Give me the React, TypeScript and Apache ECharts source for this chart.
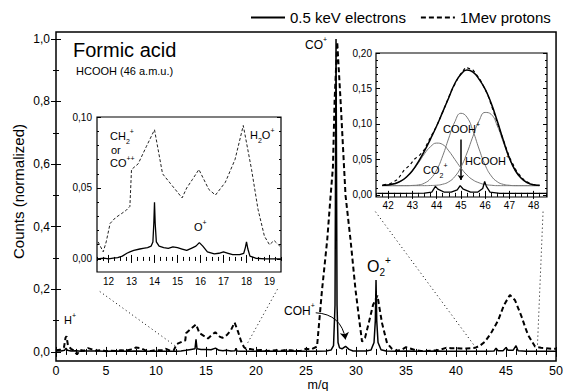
import React, { useEffect, useRef } from 'react';
import * as echarts from 'echarts';

const FONT = '"Liberation Sans", Arial, Helvetica, sans-serif';

// ---------- tick labels ----------
const mainXLabels = [0, 5, 10, 15, 20, 25, 30, 35, 40, 45, 50];
const mainYLabels = [0, 0.2, 0.4, 0.6, 0.8, 1.0];
const inset1XLabels = [12, 13, 14, 15, 16, 17, 18, 19];
const inset1YLabels = [0, 0.05, 0.1];
const inset2XLabels = [42, 43, 44, 45, 46, 47, 48];
const inset2YLabels = [0, 0.05, 0.1, 0.15, 0.2];

const legendNames = ['0.5 keV electrons', '1Mev protons'];

// ---------- main spectrum (m/q, normalized counts) ----------
const mainElectrons: number[][] = [
  [0, 0.003], [0.5, 0.003], [0.85, 0.005], [1.0, 0.012], [1.15, 0.005], [1.5, 0.003], [2, 0.004], [2.5, 0.002],
  [3, 0.003], [4, 0.003], [5, 0.002], [6, 0.003], [7, 0.002], [8, 0.003], [9, 0.002], [10, 0.002], [11, 0.002],
  [12, 0.002], [12.5, 0.003], [13, 0.005], [13.5, 0.008], [13.9, 0.01], [14, 0.04], [14.1, 0.01], [14.5, 0.008],
  [15, 0.008], [15.5, 0.007], [15.95, 0.012], [16.3, 0.005], [16.7, 0.004], [17, 0.005], [17.5, 0.003], [17.9, 0.004],
  [18, 0.012], [18.1, 0.003], [18.5, 0.002], [19, 0.002], [20, 0.002], [21, 0.003], [22, 0.002], [23, 0.002],
  [24, 0.003], [25, 0.002], [26, 0.002], [27, 0.003], [27.5, 0.006], [27.75, 0.02], [27.9, 0.15], [28, 1.0],
  [28.1, 0.15], [28.2, 0.03], [28.35, 0.013], [28.6, 0.01], [28.95, 0.018], [29.3, 0.008], [29.7, 0.003],
  [30.5, 0.003], [31, 0.003], [31.5, 0.006], [31.8, 0.03], [31.93, 0.1], [32, 0.23], [32.07, 0.1], [32.2, 0.03],
  [32.5, 0.007], [33, 0.003], [34, 0.002], [35, 0.003], [36, 0.002], [37, 0.002], [38, 0.003], [39, 0.002],
  [40, 0.002], [41, 0.002], [42, 0.002], [43, 0.002], [43.8, 0.003], [44, 0.012], [44.2, 0.004], [44.7, 0.004],
  [45, 0.014], [45.2, 0.005], [45.7, 0.005], [46, 0.02], [46.2, 0.004], [47, 0.002], [48, 0.002], [49, 0.002], [50, 0.002],
];

const mainProtons: number[][] = [
  [0, 0.005], [0.4, 0.007], [0.8, 0.015], [0.95, 0.045], [1.05, 0.05], [1.2, 0.02], [1.5, 0.01], [1.8, 0.004],
  [2.1, -0.008], [2.4, 0.006], [2.8, 0.004], [3.2, 0.012], [3.6, 0.008], [4, 0.004], [4.5, 0.006], [5, 0.002],
  [5.5, 0.004], [6, 0.003], [6.5, 0.005], [7, 0.004], [7.5, 0.008], [8, 0.014], [8.5, 0.012], [9, 0.004],
  [9.5, 0.003], [10, 0.006], [10.5, 0.005], [11, 0.01], [11.4, 0.004], [11.77, 0.005], [12.07, 0.025],
  [12.57, 0.032], [12.93, 0.037], [13.0, 0.06], [13.5, 0.074], [14.0, 0.088], [14.35, 0.06], [14.7, 0.053],
  [15.2, 0.043], [15.65, 0.056], [15.93, 0.063], [16.36, 0.049], [16.65, 0.045], [17.08, 0.054], [17.5, 0.07],
  [17.86, 0.094], [18.22, 0.063], [18.5, 0.035], [18.78, 0.016], [19.0, 0.01], [19.5, 0.009], [20, 0.005],
  [20.5, 0.006], [21, 0.003], [21.5, 0.004], [22, 0.005], [22.5, 0.004], [23, 0.006], [23.5, 0.005], [24, 0.003],
  [24.5, 0.004], [25, 0.01], [25.5, 0.008], [26.1, 0.017], [26.6, 0.198], [27.12, 0.358], [27.46, 0.5],
  [27.69, 0.59], [27.86, 0.805], [28.12, 0.99], [28.45, 0.805], [28.95, 0.5], [29.45, 0.358], [29.95, 0.198],
  [30.45, 0.07], [30.6, 0.033], [30.9, 0.045], [31.27, 0.092], [31.7, 0.15], [32.14, 0.18], [32.6, 0.092],
  [33.1, 0.028], [33.6, 0.01], [34, 0.004], [34.5, 0.006], [35, 0.015], [35.5, 0.01], [36, 0.005], [36.5, 0.003],
  [37, 0.003], [37.5, 0.004], [38, 0.005], [38.5, 0.008], [39, 0.013], [39.5, 0.012], [40, 0.012], [40.5, 0.011],
  [41, 0.011], [41.5, 0.012], [41.9, 0.013], [42.4, 0.02], [42.9, 0.033], [43.5, 0.06], [44.2, 0.1], [44.8, 0.15],
  [45.39, 0.182], [45.9, 0.165], [46.55, 0.113], [46.9, 0.08], [47.2, 0.054], [47.9, 0.017], [48.5, 0.013],
  [49, 0.012], [49.5, 0.01], [50, 0.01],
];

// ---------- inset 1 (m/q 11.5 - 19.5) ----------
const inset1Protons: number[][] = [
  [11.55, 0.012], [11.77, 0.005], [11.9, 0.012], [12.07, 0.025], [12.3, 0.029], [12.57, 0.032], [12.75, 0.034],
  [12.93, 0.037], [13.0, 0.063], [13.29, 0.067], [13.64, 0.079], [14.0, 0.091], [14.35, 0.06], [14.7, 0.053],
  [15.0, 0.047], [15.2, 0.043], [15.4, 0.05], [15.65, 0.056], [15.93, 0.063], [16.36, 0.049], [16.65, 0.045],
  [17.08, 0.054], [17.5, 0.07], [17.86, 0.094], [18.22, 0.063], [18.5, 0.035], [18.78, 0.016], [19.0, 0.01],
  [19.2, 0.013], [19.45, 0.009],
];
const inset1Electrons: number[][] = [
  [11.5, 0.0], [11.8, 0.0005], [12.0, 0.0], [12.2, 0.0005], [12.4, 0.001], [12.6, 0.002], [12.8, 0.004],
  [12.93, 0.005], [13.1, 0.006], [13.36, 0.007], [13.5, 0.0075], [13.7, 0.008], [13.85, 0.009], [13.93, 0.012],
  [13.97, 0.025], [14.0, 0.04], [14.03, 0.025], [14.08, 0.012], [14.2, 0.009], [14.4, 0.008], [14.6, 0.0075],
  [14.8, 0.0085], [15.0, 0.008], [15.2, 0.007], [15.4, 0.006], [15.6, 0.0075], [15.8, 0.009], [15.95, 0.0115],
  [16.1, 0.009], [16.3, 0.005], [16.6, 0.0035], [16.8, 0.004], [17.0, 0.005], [17.2, 0.004], [17.4, 0.003],
  [17.7, 0.003], [17.88, 0.004], [17.95, 0.008], [18.0, 0.012], [18.06, 0.007], [18.15, 0.002], [18.4, 0.0005],
  [18.8, 0.0], [19.2, 0.0], [19.5, 0.0],
];

// ---------- inset 2 (m/q 41.5 - 48.5), fitted components ----------
const inset2Mass = [41.75, 42, 42.25, 42.5, 42.75, 43, 43.25, 43.5, 43.75, 44, 44.25, 44.5, 44.75, 45, 45.25, 45.5,
  45.75, 46, 46.25, 46.5, 46.75, 47, 47.25, 47.5, 47.75, 48, 48.25];
const fitCO2 = [0.013, 0.014, 0.016, 0.019, 0.025, 0.034, 0.045, 0.058, 0.068, 0.073, 0.071, 0.062, 0.05, 0.038,
  0.028, 0.021, 0.017, 0.0145, 0.0136, 0.013, 0.013, 0.013, 0.013, 0.013, 0.013, 0.013, 0.013];
const fitCOOH = [0.013, 0.013, 0.013, 0.013, 0.013, 0.0133, 0.014, 0.0166, 0.0228, 0.035, 0.055, 0.08, 0.103, 0.115,
  0.1095, 0.09, 0.0646, 0.042, 0.0268, 0.0185, 0.0148, 0.0135, 0.013, 0.013, 0.013, 0.013, 0.013];
const fitHCOOH = [0.013, 0.013, 0.013, 0.013, 0.013, 0.013, 0.013, 0.013, 0.0132, 0.0136, 0.015, 0.0184, 0.0258,
  0.039, 0.059, 0.0828, 0.1044, 0.1162, 0.1135, 0.0974, 0.0741, 0.0512, 0.0336, 0.0226, 0.0168, 0.0143, 0.0134];
const fitTotal = [0.0134, 0.014, 0.0156, 0.0189, 0.025, 0.034, 0.047, 0.062, 0.079, 0.097, 0.117, 0.137, 0.157,
  0.17, 0.176, 0.173, 0.163, 0.149, 0.129, 0.104, 0.077, 0.052, 0.034, 0.023, 0.017, 0.0143, 0.0134];
const inset2Protons: number[][] = [
  [41.8, 0.014], [42.1, 0.016], [42.4, 0.022], [42.66, 0.035], [42.9, 0.042], [43.07, 0.05], [43.3, 0.056],
  [43.48, 0.063], [43.7, 0.078], [44.0, 0.097], [44.3, 0.121], [44.6, 0.146], [44.9, 0.166], [45.2, 0.18],
  [45.5, 0.176], [45.8, 0.162], [46.1, 0.142], [46.4, 0.112], [46.7, 0.082], [47.0, 0.053], [47.3, 0.033],
  [47.6, 0.021], [47.9, 0.015], [48.2, 0.013],
];
const inset2Electrons: number[][] = [
  [41.55, 0.002], [42.5, 0.002], [43.5, 0.0025], [43.8, 0.004], [43.95, 0.012], [44.05, 0.008], [44.3, 0.004],
  [44.6, 0.004], [44.85, 0.007], [44.97, 0.013], [45.1, 0.008], [45.4, 0.004], [45.7, 0.004], [45.9, 0.009],
  [45.98, 0.019], [46.05, 0.012], [46.2, 0.004], [46.6, 0.002], [47.5, 0.002], [48.55, 0.002],
];

// ---------- annotation guides (in main-plot data units) ----------
const zoomGuides: number[][][] = [
  [[4.38, 0.193], [12.02, 0.017]],
  [[22.14, 0.2], [19.15, 0.028]],
  [[31.94, 0.448], [41.9, 0.017]],
  [[48.7, 0.448], [48.14, 0.019]],
];
const cohArrow = [[25.97, 0.125], [28.95, 0.04]];
const cooHMarker = [[45, 0.078], [45, 0.021]];

function steps(a: number, b: number, s: number) {
  const out: number[] = [];
  for (let v = a; v <= b + 1e-9; v += s) out.push(+v.toFixed(4));
  return out;
}
const comma = (d: number) => (v: number) => v.toFixed(d).replace('.', ',');

function axisSet(dim: 'x' | 'y', grid: number, min: number, max: number, labels: number[], majors: number[],
  minors: number[], fmt: (v: number) => string, fs: number, margin: number, majLen: number, minLen: number) {
  const [p1, p2] = dim === 'x' ? ['bottom', 'top'] : ['left', 'right'];
  const base = (pos: string, ticks: number[], len: number, withLabels: boolean) => ({
    type: 'value', gridIndex: grid, position: pos, min, max,
    axisLine: { show: false }, splitLine: { show: false },
    axisTick: { show: true, inside: true, length: len, customValues: ticks, lineStyle: { color: '#000', width: 1 } },
    axisLabel: withLabels
      ? { show: true, customValues: labels, formatter: fmt, fontSize: fs, color: '#000', margin, fontFamily: FONT }
      : { show: false },
  });
  return [base(p1, majors, majLen, true), base(p1, minors, minLen, false), base(p2, majors, majLen, false), base(p2, minors, minLen, false)];
}

function richLabel(x: number, y: number, parts: [string, string][], size: number) {
  const sm = Math.round(size * 0.62);
  return {
    type: 'text', x, y, z: 50,
    style: {
      text: parts.map(([t, k]) => `{${k}|${t}}`).join(''),
      verticalAlign: 'middle', align: 'left',
      rich: {
        b: { fontSize: size, lineHeight: size + 6, fontFamily: FONT, fill: '#000' },
        sup: { fontSize: sm, lineHeight: sm, verticalAlign: 'top', fontFamily: FONT, fill: '#000' },
        sub: { fontSize: sm, lineHeight: sm, verticalAlign: 'bottom', fontFamily: FONT, fill: '#000' },
      },
    },
  };
}

export default function App() {
  const ref = useRef<HTMLDivElement>(null);
  useEffect(() => {
    if (!ref.current) return;
    const chart = echarts.init(ref.current, undefined, { renderer: 'svg' });
    const xAxes = [
      ...axisSet('x', 0, 0, 50, mainXLabels, mainXLabels, steps(0, 50, 1), (v) => String(v), 12.5, 3, 5, 3),
      ...axisSet('x', 1, 11.5, 19.5, inset1XLabels, inset1XLabels, steps(11.5, 19.5, 0.25), (v) => String(v), 10, 4, 4, 2),
      ...axisSet('x', 2, 41.5, 48.55, inset2XLabels, inset2XLabels, steps(41.5, 48.5, 0.25), (v) => String(v), 10, 3, 4, 2),
    ];
    const yAxes = [
      ...axisSet('y', 0, -0.029, 1.022, mainYLabels, mainYLabels, steps(0, 1, 0.1), comma(1), 12, 6, 5, 3),
      ...axisSet('y', 1, -0.0092, 0.1, inset1YLabels, inset1YLabels, steps(0, 0.1, 0.01), comma(2), 10, 5, 4, 2),
      ...axisSet('y', 2, -0.003, 0.2, inset2YLabels, inset2YLabels, steps(0, 0.2, 0.01), comma(2), 10, 4, 4, 2),
    ];
    const black = '#000';
    const line = (name: string, data: any, xi: number, yi: number, ls: any, extra: any = {}) => ({
      type: 'line', name, data, xAxisIndex: xi, yAxisIndex: yi, symbol: 'none', showSymbol: false,
      lineStyle: ls, silent: true, ...extra,
    });
    const series: any[] = [
      line(legendNames[1], mainProtons, 0, 0, { color: black, width: 2, type: [5, 3] }, { itemStyle: { color: black } }),
      line(legendNames[0], mainElectrons, 0, 0, { color: black, width: 1.5 }, { itemStyle: { color: black } }),
      ...zoomGuides.map((g, i) => line('guide' + i, g, 0, 0, { color: black, width: 1, type: [1, 3] })),
      {
        type: 'lines', coordinateSystem: 'cartesian2d', xAxisIndex: 0, yAxisIndex: 0, silent: true,
        data: [{ coords: cohArrow }], symbol: ['none', 'arrow'], symbolSize: 7,
        lineStyle: { color: black, width: 1, curveness: 0.4, opacity: 1 },
      },
      line('i1p', inset1Protons, 4, 4, { color: '#222', width: 1, type: [3, 2] }),
      line('i1e', inset1Electrons, 4, 4, { color: black, width: 1.3 }),
      line('co2', inset2Mass.map((m, i) => [m, fitCO2[i]]), 8, 8, { color: '#777', width: 1 }, { smooth: true }),
      line('cooh', inset2Mass.map((m, i) => [m, fitCOOH[i]]), 8, 8, { color: '#777', width: 1 }, { smooth: true }),
      line('hcooh', inset2Mass.map((m, i) => [m, fitHCOOH[i]]), 8, 8, { color: '#777', width: 1 }, { smooth: true }),
      line('total', inset2Mass.map((m, i) => [m, fitTotal[i]]), 8, 8, { color: black, width: 1.5 }, { smooth: true }),
      line('i2p', inset2Protons, 8, 8, { color: black, width: 1.2, type: [3, 3] }),
      line('i2e', inset2Electrons, 8, 8, { color: black, width: 1.3 }),
      {
        type: 'lines', coordinateSystem: 'cartesian2d', xAxisIndex: 8, yAxisIndex: 8, silent: true,
        data: [{ coords: cooHMarker }], symbol: ['none', 'arrow'], symbolSize: 5,
        lineStyle: { color: black, width: 1.5, curveness: 0, opacity: 1 },
      },
    ];
    const option: any = {
      animation: false,
      textStyle: { fontFamily: FONT },
      grid: [
        { left: 56, top: 32, width: 503, height: 329, show: true, borderColor: black, borderWidth: 1.5, backgroundColor: 'transparent' },
        { left: 97, top: 117, width: 184, height: 155, show: true, borderColor: black, borderWidth: 1.2, backgroundColor: '#fff' },
        { left: 376, top: 53, width: 171, height: 144, show: true, borderColor: black, borderWidth: 1.2, backgroundColor: '#fff' },
      ],
      xAxis: xAxes,
      yAxis: yAxes,
      legend: {
        data: legendNames.slice(), left: 250, top: 10, itemWidth: 34, itemHeight: 14, itemGap: 14, padding: 0,
        itemStyle: { opacity: 0 },
        textStyle: { fontSize: 15, color: black, fontFamily: FONT }, selectedMode: false,
      },
      series,
      graphic: [
        { type: 'text', x: 73, y: 50, z: 50, style: { text: 'Formic acid', fontSize: 20, fontFamily: FONT, fill: black, verticalAlign: 'middle' } },
        { type: 'text', x: 76, y: 71, z: 50, style: { text: 'HCOOH (46 a.m.u.)', fontSize: 11, fontFamily: FONT, fill: black, verticalAlign: 'middle' } },
        { type: 'text', x: 18.5, y: 191.5, rotation: Math.PI / 2, z: 50, style: { text: 'Counts (normalized)', fontSize: 15, fontFamily: FONT, fill: black, align: 'center', verticalAlign: 'middle' } },
        { type: 'text', x: 318, y: 384.5, z: 50, style: { text: 'm/q', fontSize: 12.5, fontFamily: FONT, fill: black, align: 'center', verticalAlign: 'middle' } },
        richLabel(305, 45, [['CO', 'b'], ['+', 'sup']], 12),
        richLabel(367, 266, [['O', 'b'], ['2', 'sub'], ['+', 'sup']], 16),
        richLabel(64, 320, [['H', 'b'], ['+', 'sup']], 11),
        richLabel(284, 311, [['COH', 'b'], ['+', 'sup']], 12),
        richLabel(110, 136, [['CH', 'b'], ['2', 'sub'], ['+', 'sup']], 11),
        richLabel(111, 150, [['or', 'b']], 11),
        richLabel(110, 163, [['CO', 'b'], ['++', 'sup']], 11),
        richLabel(250, 135, [['H', 'b'], ['2', 'sub'], ['O', 'b'], ['+', 'sup']], 11),
        richLabel(194, 227, [['O', 'b'], ['+', 'sup']], 11),
        richLabel(443, 129, [['COOH', 'b'], ['+', 'sup']], 11),
        richLabel(423, 170, [['CO', 'b'], ['2', 'sub'], ['+', 'sup']], 11),
        richLabel(465, 161, [['HCOOH', 'b'], ['+', 'sup']], 11),
      ],
    };
    chart.setOption(option);
    return () => chart.dispose();
  }, []);
  return <div ref={ref} style={{ position: 'fixed', left: 0, top: 0, width: 566, height: 391, background: '#fff' }} />;
}
